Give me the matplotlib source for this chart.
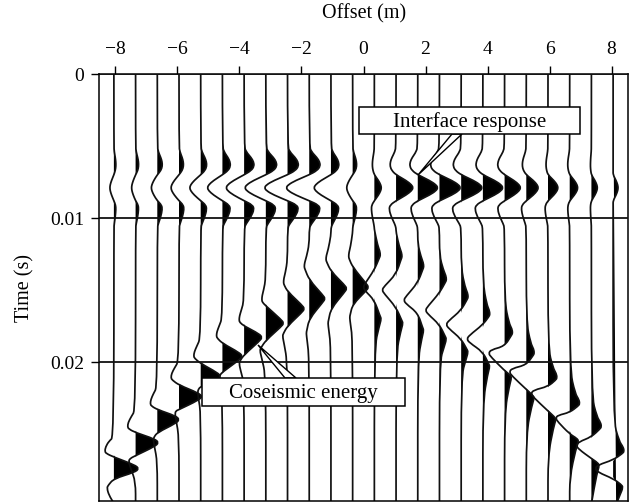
import numpy as np
import matplotlib
matplotlib.use('Agg')
import matplotlib.pyplot as plt
from matplotlib.patches import PathPatch, Polygon, Rectangle
from matplotlib.path import Path
from matplotlib.transforms import IdentityTransform

plt.rcParams['font.family'] = ['Liberation Serif', 'DejaVu Serif']

W, H = 638, 503

# receiver offsets (m)
offsets = [-8.05, -7.35, -6.65, -5.95, -5.25, -4.55, -3.85, -3.15, -2.45, -1.75, -1.05, -0.35,
           0.35, 1.05, 1.75, 2.45, 3.15, 3.85, 4.55, 5.25, 5.95, 6.65, 7.35, 8.05]

# interface response, same time samples for every trace (ms)
t_interface = [5.0, 5.4, 5.8, 6.1, 6.4, 6.7, 7.0, 7.4, 7.7, 7.9, 8.1, 8.4, 8.8, 9.1, 9.4, 9.9, 10.4, 10.7]
amp_interface = [
    [0, .4, 1.4, 1.9, 2, 1.4, 0, -2.4, -3.7, -4, -3.7, -2.4, 0, 1.7, 2, 1.4, .4, 0],
    [0, .6, 2.1, 2.9, 3, 2.2, 0, -2.4, -3.7, -4, -3.7, -2.4, 0, 2.6, 3, 2.1, .6, 0],
    [0, 1, 3.5, 4.8, 5, 3.6, 0, -3.6, -5.5, -6, -5.5, -3.6, 0, 4.3, 5, 3.5, 1, 0],
    [0, .9, 3.2, 4.3, 4.5, 3.2, 0, -4.8, -7.4, -8, -7.4, -4.8, 0, 4.3, 5, 3.5, 1, 0],
    [0, 1.2, 4.2, 5.7, 6, 4.3, 0, -6.6, -10.1, -11, -10.1, -6.6, 0, 5.1, 6, 4.2, 1.2, 0],
    [0, 1.6, 5.6, 7.6, 8, 5.8, 0, -9, -13.8, -15, -13.8, -9, 0, 6.8, 8, 5.6, 1.6, 0],
    [0, 2, 7, 9.5, 10, 7.2, 0, -10.8, -16.6, -18, -16.6, -10.8, 0, 8.5, 10, 7, 2, 0],
    [0, 2.2, 7.7, 10.4, 11, 7.9, 0, -12.6, -19.3, -21, -19.3, -12.6, 0, 8.5, 10, 7, 2, 0],
    [0, 2.2, 7.7, 10.4, 11, 7.9, 0, -13.8, -21.2, -23, -21.2, -13.8, 0, 9.4, 11, 7.7, 2.2, 0],
    [0, 2.2, 7.7, 10.4, 11, 7.9, 0, -13.8, -21.2, -23, -21.2, -13.8, 0, 9.4, 11, 7.7, 2.2, 0],
    [0, 1.6, 5.6, 7.6, 8, 5.8, 0, -10.2, -15.6, -17, -15.6, -10.2, 0, 6.8, 8, 5.6, 1.6, 0],
    [0, .8, 2.8, 3.8, 4, 2.9, 0, -3.6, -5.5, -6, -5.5, -3.6, 0, 3.4, 4, 2.8, .8, 0],
    [0, -.4, -1.4, -1.9, -2, -1.4, 0, 4.2, 6.4, 7, 6.4, 4.2, 0, -2.6, -3, -2.1, -.6, 0],
    [0, -1.2, -4.2, -5.7, -6, -4.3, 0, 10.2, 15.6, 17, 15.6, 10.2, 0, -6, -7, -4.9, -1.4, 0],
    [0, -1.6, -5.6, -7.6, -8, -5.8, 0, 12, 18.4, 20, 18.4, 12, 0, -6, -7, -4.9, -1.4, 0],
    [0, -1.8, -6.3, -8.5, -9, -6.5, 0, 12.6, 19.3, 21, 19.3, 12.6, 0, -6.8, -8, -5.6, -1.6, 0],
    [0, -1.6, -5.6, -7.6, -8, -5.8, 0, 12.6, 19.3, 21, 19.3, 12.6, 0, -7.6, -9, -6.3, -1.8, 0],
    [0, -1.4, -4.9, -6.6, -7, -5, 0, 12, 18.4, 20, 18.4, 12, 0, -6.8, -8, -5.6, -1.6, 0],
    [0, -1.4, -4.9, -6.6, -7, -5, 0, 9.6, 14.7, 16, 14.7, 9.6, 0, -6, -7, -4.9, -1.4, 0],
    [0, -.8, -2.8, -3.8, -4, -2.9, 0, 7.2, 11, 12, 11, 7.2, 0, -4.3, -5, -3.5, -1, 0],
    [0, -.4, -1.4, -1.9, -2, -1.4, 0, 6, 9.2, 10, 9.2, 6, 0, -2.6, -3, -2.1, -.6, 0],
    [0, -.4, -1.4, -1.9, -2, -1.4, 0, 4.8, 7.4, 8, 7.4, 4.8, 0, -1.7, -2, -1.4, -.4, 0],
    [0, -.2, -.7, -.9, -1, -.7, 0, 3.6, 5.5, 6, 5.5, 3.6, 0, -.9, -1, -.7, -.2, 0],
    [0, 0, 0, 0, 0, 0, 0, 3, 4.6, 5, 4.6, 3, 0, 0, 0, 0, 0, 0],
]

# coseismic wavelet, picked trace by trace (ms)
t_coseismic = [
    [25.2, 25.5, 25.9, 26.2, 26.35, 26.6, 27.15, 27.4, 27.65, 28.1, 28.55, 28.75, 29.25, 29.8],
    [23.3, 23.8, 24.2, 24.5, 24.65, 24.9, 25.35, 25.6, 25.85, 26.5, 26.7, 26.9, 27.4, 28.3],
    [21.7, 22.2, 22.6, 22.9, 23.05, 23.3, 23.75, 24, 24.25, 24.9, 25.2, 25.4, 25.9, 26.9],
    [19.9, 20.4, 20.8, 21.1, 21.25, 21.6, 22.15, 22.4, 22.65, 23.3, 23.4, 23.6, 24.1, 25.2],
    [18.3, 18.9, 19.3, 19.6, 19.75, 20.1, 20.75, 21, 21.25, 21.7, 21.9, 22.1, 22.6, 23.5],
    [16.9, 17.5, 17.9, 18.2, 18.35, 18.7, 19.35, 19.6, 19.85, 20.7, 20.9, 21.1, 21.6, 22.5],
    [15.7, 16.4, 16.8, 17.1, 17.25, 17.5, 18.05, 18.3, 18.55, 19.5, 19.9, 20.1, 20.6, 21.5],
    [14.2, 15, 15.4, 15.7, 15.85, 16.1, 17.05, 17.3, 17.55, 18.5, 19, 19.2, 19.7, 21],
    [12.9, 13.8, 14.2, 14.5, 14.65, 15.1, 16.05, 16.3, 16.55, 17.5, 18, 18.2, 18.7, 20.1],
    [11.8, 12.7, 13.1, 13.4, 13.55, 14.3, 15.35, 15.6, 15.85, 17, 17.8, 18, 18.5, 19.8],
    [11.2, 12.2, 12.6, 12.9, 13.05, 13.7, 14.65, 14.9, 15.15, 16.3, 17.1, 17.3, 17.8, 19],
    [11, 12, 12.4, 12.7, 12.85, 13.4, 14.55, 14.8, 15.05, 16, 16.7, 16.9, 17.4, 18.5],
    [10.8, 11.9, 12.3, 12.6, 12.75, 13.6, 14.55, 14.8, 15.05, 15.7, 16.8, 17, 17.5, 19],
    [11, 12, 12.4, 12.7, 12.85, 13.9, 14.75, 15, 15.25, 16.2, 17.1, 17.3, 17.8, 19.4],
    [11.8, 12.7, 13.1, 13.4, 13.55, 14.5, 15.45, 15.7, 15.95, 16.6, 17.6, 17.8, 18.3, 19.9],
    [12.6, 13.6, 14, 14.3, 14.45, 15.2, 16.15, 16.4, 16.65, 17.4, 18.2, 18.4, 18.9, 20],
    [13.5, 14.8, 15.2, 15.5, 15.65, 16.4, 17.15, 17.4, 17.65, 18.4, 19.1, 19.3, 19.8, 21],
    [14.5, 16, 16.4, 16.7, 16.85, 17.4, 18.15, 18.4, 18.65, 19.3, 20.1, 20.3, 20.8, 22.8],
    [15.8, 17.3, 17.7, 18, 18.15, 18.9, 19.15, 19.4, 19.65, 20.6, 20.9, 21.1, 21.6, 23.5],
    [17.2, 18.7, 19.1, 19.4, 19.55, 20.2, 20.45, 20.7, 20.95, 21.9, 22.3, 22.5, 23, 24.9],
    [19, 20.4, 20.8, 21.1, 21.25, 21.7, 21.95, 22.2, 22.45, 23.4, 23.8, 24, 24.5, 26.5],
    [20.5, 22.2, 22.6, 22.9, 23.05, 23.5, 23.7, 23.9, 24.15, 25, 25.3, 25.5, 26, 28],
    [22.3, 23.8, 24.2, 24.5, 24.65, 25.2, 25.55, 25.8, 26.05, 26.7, 27, 27.2, 27.7, 29.8],
    [24, 25.5, 25.9, 26.2, 26.35, 26.8, 27.15, 27.4, 27.65, 28.1, 28.5, 28.7, 29.2, 29.9],
]
amp_coseismic = [
    [0, -5, -8.3, -9, -7.7, 0, 21, 25, 21, 0, -5.6, -7, -4.9, 0],
    [0, -4.4, -7.4, -8, -6.8, 0, 19.5, 23, 19.5, 0, -5.6, -7, -4.9, 0],
    [0, -3.9, -6.4, -7, -6, 0, 18.7, 22, 18.7, 0, -3.2, -4, -2.8, 0],
    [0, -4.4, -7.4, -8, -6.8, 0, 19.5, 23, 19.5, 0, -3.2, -4, -2.8, 0],
    [0, -3.9, -6.4, -7, -6, 0, 17, 20, 17, 0, -2.4, -3, -2.1, 0],
    [0, -3.3, -5.5, -6, -5.1, 0, 17, 20, 17, 0, -2.4, -3, -2.1, 0],
    [0, -2.8, -4.6, -5, -4.3, 0, 15.3, 18, 15.3, 0, -4, -5, -3.5, 0],
    [0, -2.2, -3.7, -4, -3.4, 0, 15.3, 18, 15.3, 0, -4.8, -6, -4.2, 0],
    [0, -2.2, -3.7, -4, -3.4, 0, 14.5, 17, 14.5, 0, -4, -5, -3.5, 0],
    [0, -2.8, -4.6, -5, -4.3, 0, 13.6, 16, 13.6, 0, -2.4, -3, -2.1, 0],
    [0, -2.8, -4.6, -5, -4.3, 0, 13.6, 16, 13.6, 0, -2.4, -3, -2.1, 0],
    [0, -2.2, -3.7, -4, -3.4, 0, 13.6, 16, 13.6, 0, -2.4, -3, -2.1, 0],
    [0, 3.3, 5.5, 6, 5.1, 0, -9.4, -11, -9.4, 0, 5.6, 7, 4.9, 0],
    [0, 3.3, 5.5, 6, 5.1, 0, -11.9, -14, -11.9, 0, 5.6, 7, 4.9, 0],
    [0, 3.3, 5.5, 6, 5.1, 0, -11.9, -14, -11.9, 0, 4.8, 6, 4.2, 0],
    [0, 3.9, 6.4, 7, 6, 0, -11.9, -14, -11.9, 0, 5.6, 7, 4.9, 0],
    [0, 3.9, 6.4, 7, 6, 0, -12.8, -15, -12.8, 0, 5.6, 7, 4.9, 0],
    [0, 3.9, 6.4, 7, 6, 0, -13.6, -16, -13.6, 0, 5.6, 7, 4.9, 0],
    [0, 4.4, 7.4, 8, 6.8, 0, -13.6, -16, -13.6, 0, 5.6, 7, 4.9, 0],
    [0, 4.4, 7.4, 8, 6.8, 0, -14.5, -17, -14.5, 0, 6.4, 8, 5.6, 0],
    [0, 5, 8.3, 9, 7.7, 0, -14.5, -17, -14.5, 0, 6.4, 8, 5.6, 0],
    [0, 5.5, 9.2, 10, 8.5, 0, -11.9, -14, -11.9, 0, 7.2, 9, 6.3, 0],
    [0, 5.5, 9.2, 10, 8.5, 0, -12.8, -15, -12.8, 0, 6.4, 8, 5.6, 0],
    [0, 6, 10.1, 11, 9.4, 0, -15.3, -18, -15.3, 0, 8, 10, 7, 3],
]

x_ticks = [-8, -6, -4, -2, 0, 2, 4, 6, 8]
x_labels = ['\u22128', '\u22126', '\u22124', '\u22122', '0', '2', '4', '6', '8']
y_ticks = [0, 0.01, 0.02]
y_labels = ['0', '0.01', '0.02']

gain = 1 / 31  # amplitude units to metres on the offset axis
x_lim = 8.53
t_end = 0.02965


def box(x0, y0, x1, y1):
    ''' figure rectangle from pixel edges '''
    return [x0 / W, 1 - y1 / H, (x1 - x0) / W, (y1 - y0) / H]


def trace_path(x, t):
    ''' quadratic curve through the picks '''
    verts = [(x[0], t[0])]
    codes = [Path.MOVETO]
    for i in range(1, len(x) - 1):
        verts += [(x[i], t[i]), ((x[i] + x[i + 1]) / 2, (t[i] + t[i + 1]) / 2)]
        codes += [Path.CURVE3, Path.CURVE3]
    verts.append((x[-1], t[-1]))
    codes.append(Path.LINETO)
    return Path(verts, codes)


def main():
    fig = plt.figure(figsize=(W / 100, H / 100), dpi=100)
    ax = fig.add_axes(box(99, 74, 628, 501))
    ax.set_xlim(-x_lim, x_lim)
    ax.set_ylim(t_end, 0)

    for i, off in enumerate(offsets):
        t = np.array([0] + t_interface + t_coseismic[i], dtype=float)
        a = np.array([0] + amp_interface[i] + amp_coseismic[i], dtype=float)
        if t[-1] < 30:
            t = np.append(t, 30)
            a = np.append(a, a[-1])
        x = off + a * gain
        t = t / 1000
        path = trace_path(x, t)

        # black only on the positive side of the baseline, done on the flattened curve
        outline = path.transformed(ax.transData).to_polygons(closed_only=False)[0]
        base = ax.transData.transform((off, 0))[0]
        outline[:, 0] = np.maximum(outline[:, 0], base)
        ax.add_patch(Polygon(outline, closed=True, transform=IdentityTransform(),
                             fc='black', ec='none', snap=False))
        ax.add_patch(PathPatch(path, fc='none', ec='#111111', lw=1.25, snap=False))

    ax.xaxis.tick_top()
    ax.xaxis.set_label_position('top')
    ax.set_xticks(x_ticks)
    ax.set_xticklabels(x_labels, fontsize=14)
    ax.set_yticks(y_ticks)
    ax.set_yticklabels(y_labels, fontsize=14)
    ax.tick_params(axis='x', length=5.5, width=1, pad=6)
    ax.tick_params(axis='y', length=5.5, width=1, pad=5)
    ax.grid(True, axis='y', color='#111111', lw=1.3)
    ax.set_axisbelow(False)
    for s in ax.spines.values():
        s.set_linewidth(1.1)

    fig.text(364 / W, 1 - 14 / H, 'Offset (m)', ha='center', va='center', fontsize=14.5)
    fig.text(25 / W, 1 - 288 / H, 'Time (s)', ha='center', va='center', rotation=90, fontsize=14.5)

    # callouts, leader wedge first so the box sits over its root
    for pts in ([(418, 175), (452, 134), (462, 134)], [(258, 345), (285, 378), (296, 378)]):
        pts = [(px / W, 1 - py / H) for px, py in pts]
        fig.add_artist(Polygon(pts, closed=True, transform=fig.transFigure, fc='white', ec='black', lw=1))
    for (x0, y0, x1, y1), label in [((359, 107, 580, 134), 'Interface response'),
                                    ((202, 378, 405, 406), 'Coseismic energy')]:
        fig.add_artist(Rectangle((x0 / W, 1 - y1 / H), (x1 - x0) / W, (y1 - y0) / H,
                                 transform=fig.transFigure, fc='white', ec='black', lw=1.1))
        fig.text((x0 + x1) / 2 / W, 1 - ((y0 + y1) / 2 + 1.5) / H, label, ha='center', va='center',
                 fontsize=15)

    fig.savefig('out.png', dpi=100)


if __name__ == '__main__':
    main()
